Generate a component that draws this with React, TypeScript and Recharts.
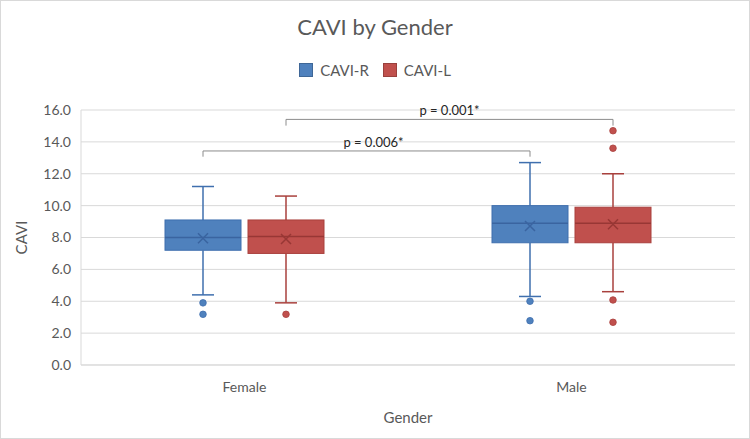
import React from 'react';
import { ComposedChart, Bar, XAxis, YAxis, CartesianGrid } from 'recharts';

const categories = ['Female', 'Male'];
const yTicks = [0, 2, 4, 6, 8, 10, 12, 14, 16];

// CAVI-R
const rMin = [4.4, 4.3];
const rQ1 = [7.2, 7.67];
const rMedian = [8.0, 8.9];
const rQ3 = [9.1, 10.0];
const rMax = [11.2, 12.7];
const rMean = [7.95, 8.72];
const rOutliers = [[3.9, 3.18], [4.0, 2.78]];

// CAVI-L
const lMin = [3.9, 4.6];
const lQ1 = [7.0, 7.67];
const lMedian = [8.07, 8.9];
const lQ3 = [9.1, 9.9];
const lMax = [10.6, 12.0];
const lMean = [7.9, 8.83];
const lOutliers = [[3.18], [14.7, 13.6, 4.08, 2.68]];

// significance brackets (Female vs Male)
const bracketLabels = ['p = 0.006*', 'p = 0.001*'];
const bracketSeries = ['r', 'l'];
const bracketTop = [13.43, 15.41];
const bracketLeg = [13.07, 15.02];

const data = categories.map((gender, i) => ({
  gender,
  r: { min: rMin[i], q1: rQ1[i], median: rMedian[i], q3: rQ3[i], max: rMax[i], mean: rMean[i], outliers: rOutliers[i] },
  l: { min: lMin[i], q1: lQ1[i], median: lMedian[i], q3: lQ3[i], max: lMax[i], mean: lMean[i], outliers: lOutliers[i] },
  rBox: [rQ1[i], rQ3[i]],
  lBox: [lQ1[i], lQ3[i]],
}));

const FONT = 'Lato, "Noto Sans", sans-serif';
const TEXT = '#595959';

// centre x of every box, filled while the shapes render (Female first)
const centers: Record<string, number[]> = { r: [], l: [] };

const makeBox = (key: 'r' | 'l', fill: string, stroke: string, dark: string) => (props: any) => {
  const { x, y, width, height, payload } = props;
  const s = payload[key];
  const idx = categories.indexOf(payload.gender);
  const top = Math.min(y, y + height);
  const bot = Math.max(y, y + height);
  const k = (bot - top) / (s.q3 - s.q1);
  const toY = (v: number) => bot - (v - s.q1) * k;
  const cx = x + width / 2;
  centers[key][idx] = cx;
  const cap = 11;
  const my = toY(s.mean);

  let bracket = null;
  const b = bracketSeries.indexOf(key);
  if (idx === 1 && b >= 0 && centers[key][0] != null) {
    const x0 = centers[key][0];
    const yt = toY(bracketTop[b]);
    const yl = toY(bracketLeg[b]);
    bracket = (
      <g>
        <path d={`M${x0},${yl} L${x0},${yt} L${cx},${yt} L${cx},${yl}`} fill="none" stroke="#8c8c8c" strokeWidth={1} />
        <text x={(x0 + cx) / 2 + (b === 0 ? 7 : 0)} y={yt - 4} textAnchor="middle" fontSize={13} fontFamily={FONT} fill="#262626">
          {bracketLabels[b]}
        </text>
      </g>
    );
  }

  return (
    <g>
      <line x1={cx} x2={cx} y1={toY(s.max)} y2={top} stroke={stroke} strokeWidth={1.5} />
      <line x1={cx - cap} x2={cx + cap} y1={toY(s.max)} y2={toY(s.max)} stroke={stroke} strokeWidth={1.5} />
      <line x1={cx} x2={cx} y1={bot} y2={toY(s.min)} stroke={stroke} strokeWidth={1.5} />
      <line x1={cx - cap} x2={cx + cap} y1={toY(s.min)} y2={toY(s.min)} stroke={stroke} strokeWidth={1.5} />
      <rect x={x} y={top} width={width} height={bot - top} fill={fill} stroke={stroke} strokeWidth={1} />
      <line x1={x} x2={x + width} y1={toY(s.median)} y2={toY(s.median)} stroke={dark} strokeWidth={1.5} />
      <path d={`M${cx - 5},${my - 5} L${cx + 5},${my + 5} M${cx - 5},${my + 5} L${cx + 5},${my - 5}`} stroke={dark} strokeWidth={1.5} />
      {s.outliers.map((v: number, j: number) => (
        <circle key={j} cx={cx} cy={toY(v)} r={3.3} fill={fill} stroke={stroke} strokeWidth={0.8} />
      ))}
      {bracket}
    </g>
  );
};

const BlueBox = makeBox('r', '#4f81bd', '#3f6fae', '#3a64a0');
const RedBox = makeBox('l', '#c0504d', '#a9403d', '#983735');

const LegendItem = ({ color, label }: { color: string; label: string }) => (
  <span style={{ display: 'inline-flex', alignItems: 'center', margin: '0 7px' }}>
    <span style={{ width: 12, height: 12, background: color, border: '1px solid rgba(0,0,0,0.2)', marginRight: 7 }} />
    <span>{label}</span>
  </span>
);

export default function App() {
  return (
    <div
      style={{
        position: 'relative',
        width: 750,
        height: 439,
        boxSizing: 'border-box',
        border: '1px solid #d9d9d9',
        background: '#fff',
        fontFamily: FONT,
        color: TEXT,
      }}
    >
      <style>{'body{margin:0}'}</style>
      <div style={{ position: 'absolute', top: 12, left: 0, width: '100%', textAlign: 'center', fontSize: 22 }}>
        CAVI by Gender
      </div>
      <div style={{ position: 'absolute', top: 60, left: 0, width: '100%', textAlign: 'center', fontSize: 15, display: 'flex', justifyContent: 'center' }}>
        <LegendItem color="#4f81bd" label="CAVI-R" />
        <LegendItem color="#c0504d" label="CAVI-L" />
      </div>
      <div style={{ position: 'absolute', top: -1, left: -1 }}>
        <ComposedChart
          width={750}
          height={439}
          data={data}
          margin={{ top: 110, right: 15, left: 21, bottom: 14 }}
          barSize={76}
          barGap={7}
        >
          <CartesianGrid vertical={false} stroke="#d9d9d9" />
          <XAxis
            dataKey="gender"
            height={60}
            axisLine={{ stroke: '#d9d9d9' }}
            tickLine={false}
            tickMargin={11}
            tick={{ fill: TEXT, fontSize: 14, fontFamily: FONT }}
            label={{ value: 'Gender', position: 'insideBottom', offset: 2, fill: TEXT, fontSize: 15, fontFamily: FONT }}
          />
          <YAxis
            width={60}
            domain={[0, 16]}
            ticks={yTicks}
            tickFormatter={(v: number) => v.toFixed(1)}
            axisLine={{ stroke: '#d9d9d9' }}
            tickLine={false}
            tickMargin={4}
            tick={{ fill: TEXT, fontSize: 14, fontFamily: FONT }}
            label={{ value: 'CAVI', angle: -90, position: 'insideLeft', offset: 1, fill: TEXT, fontSize: 15, fontFamily: FONT, style: { textAnchor: 'middle' } }}
          />
          <Bar dataKey="rBox" shape={BlueBox} isAnimationActive={false} activeBar={false} />
          <Bar dataKey="lBox" shape={RedBox} isAnimationActive={false} activeBar={false} />
        </ComposedChart>
      </div>
    </div>
  );
}
